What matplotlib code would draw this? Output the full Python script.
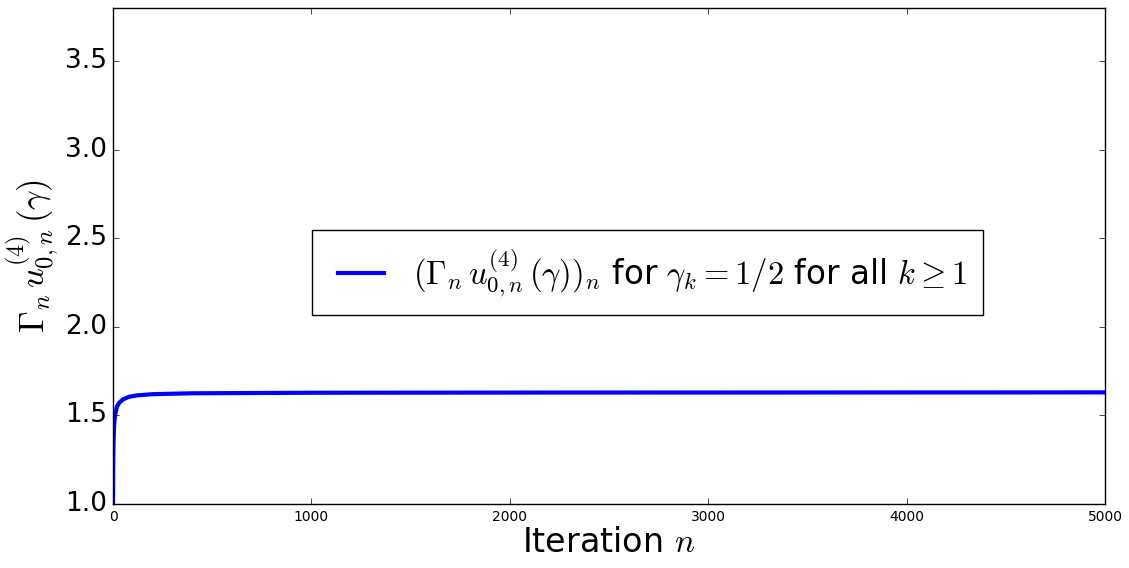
import matplotlib
matplotlib.use('Agg')
import matplotlib.pyplot as plt

# valeurs
iterations = [0, 1, 2, 3, 5, 8, 12, 20, 30, 50, 80, 120, 200, 400, 1000, 2000, 5000]
valeurs = [1.0, 1.2, 1.3, 1.36, 1.43, 1.48, 1.51, 1.55, 1.57, 1.59, 1.605, 1.613,
           1.62, 1.625, 1.628, 1.629, 1.63]

x_ticks = [0, 1000, 2000, 3000, 4000, 5000]
y_ticks = [1.0, 1.5, 2.0, 2.5, 3.0, 3.5]

plt.style.use('classic')
plt.rcParams['mathtext.fontset'] = 'cm'

fig = plt.figure(figsize=(11.29, 5.68), dpi=100, facecolor='white')
ax = fig.add_axes([113 / 1129, 64 / 568, 992 / 1129, 496 / 568])

ax.plot(iterations, valeurs, color='blue', linewidth=3,
        label=r'$(\Gamma_n\, u_{0,n}^{(4)}\,(\gamma))_n$ for $\gamma_k = 1/2$ for all $k \geq 1$')

ax.set_xlim(0, 5000)
ax.set_ylim(1.0, 3.8)
ax.set_xticks(x_ticks)
ax.set_yticks(y_ticks)
ax.tick_params(axis='x', labelsize=10)
ax.tick_params(axis='y', labelsize=19)

ax.set_xlabel(r'Iteration $n$', fontsize=24, labelpad=2)
ax.set_ylabel(r'$\Gamma_n\, u_{0,n}^{(4)}\,(\gamma)$', fontsize=25, labelpad=4)

ax.legend(loc='center', bbox_to_anchor=(0.539, 0.466), fontsize=23.5,
          handletextpad=0.6, borderpad=0.5, handlelength=2.0)

fig.savefig('out.png', dpi=100, facecolor='white')
